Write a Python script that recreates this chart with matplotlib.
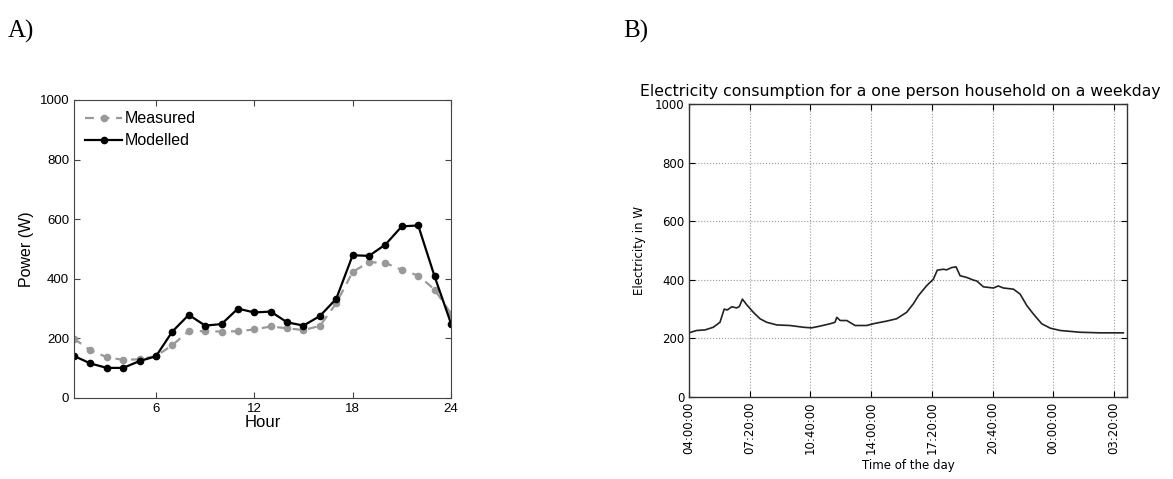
import matplotlib
matplotlib.use('Agg')
import matplotlib.pyplot as plt
import numpy as np

# ---- panel A: hourly profile
horas = list(range(1, 25))
medido = [199, 160, 137, 128, 130, 141, 177, 225, 224, 223, 224, 230,
          240, 234, 228, 242, 318, 423, 456, 453, 430, 411, 364, 283]
modelado = [141, 116, 101, 101, 124, 140, 223, 279, 243, 248, 300, 287,
            290, 254, 243, 275, 333, 479, 477, 515, 576, 579, 408, 250]

# ---- panel B: minutes after 04:00 and consumption in W
minutos = [0, 25, 53, 80, 102, 116, 126, 141, 157, 166, 176, 190, 212, 234,
           256, 289, 333, 377, 404, 432, 465, 481, 487, 498, 520, 547, 585,
           607, 651, 684, 717, 739, 756, 783, 794, 805, 818, 838, 849, 866,
           880, 893, 915, 937, 948, 970, 1003, 1019, 1036, 1069, 1091, 1113,
           1134, 1162, 1190, 1223, 1288, 1354, 1431]
consumo = [219, 227, 229, 238, 255, 300, 297, 308, 304, 309, 334, 315, 289,
           267, 255, 246, 244, 238, 236, 242, 250, 255, 272, 261, 261, 244,
           244, 250, 259, 267, 289, 318, 346, 380, 391, 402, 433, 436, 434,
           442, 444, 414, 408, 399, 396, 376, 372, 379, 372, 368, 351, 312,
           284, 250, 235, 227, 221, 219, 219]
ticks_b = [0, 200, 400, 600, 800, 1000, 1200, 1400]

W, H = 1173, 479
fig = plt.figure(figsize=(W/100, H/100), dpi=100)

def caja(x0, x1, y0, y1):
  return [x0/W, 1-y1/H, (x1-x0)/W, (y1-y0)/H]

# ---------------- A
sans = ['Liberation Sans', 'DejaVu Sans']
axA = fig.add_axes(caja(74, 451, 100, 398))
axA.plot(horas, medido, color='#999999', ls='--', dashes=(4, 3), lw=1.6,
         marker='o', ms=4.5, label='Measured')
axA.plot(horas, modelado, color='black', lw=1.6, marker='o', ms=4.5,
         label='Modelled')
axA.set_xlim(1, 24)
axA.set_ylim(0, 1000)
axA.set_xticks([6, 12, 18, 24])
axA.set_yticks(range(0, 1001, 200))
axA.tick_params(direction='in', top=True, right=True, length=4,
                labelsize=9.5, color='#444444')
for lab in axA.get_xticklabels() + axA.get_yticklabels():
  lab.set_family(sans)
for s in axA.spines.values():
  s.set_color('#444444')
  s.set_linewidth(0.8)
axA.set_xlabel('Hour', family=sans, fontsize=12, labelpad=0)
axA.set_ylabel('Power (W)', family=sans, fontsize=11.5, labelpad=4)
leg = axA.legend(loc='upper left', frameon=False, prop={'family': sans, 'size': 11.5},
                 handlelength=2.3, handletextpad=0.2, borderaxespad=0.3,
                 labelspacing=0.45)

# ---------------- B
axB = fig.add_axes(caja(689, 1127, 104, 397))
axB.plot(minutos, consumo, color='#222222', lw=1.2)
axB.set_xlim(0, 1443)
axB.set_ylim(0, 1000)
axB.set_xticks(ticks_b)
axB.set_xticklabels(['%02d:%02d:00' % (((240+m)//60) % 24, (240+m) % 60) for m in ticks_b],
                    rotation=90)
axB.set_yticks(range(0, 1001, 200))
axB.grid(True, ls=':', color='#999999', lw=0.8)
axB.tick_params(direction='in', top=True, right=True, length=4, labelsize=8.5)
for s in axB.spines.values():
  s.set_linewidth(1.0)
  s.set_color('#333333')
axB.set_xlabel('Time of the day', fontsize=8.5, labelpad=3)
axB.set_ylabel('Electricity in W', fontsize=8.5, labelpad=6)
tit = axB.set_title('Electricity consumption for a one person household on a weekday',
                    fontsize=11.3, pad=6)
tit.set_x(0.482)

# panel letters
serif = ['Liberation Serif', 'DejaVu Serif']
fig.text(8/W, 1-38/H, 'A)', family=serif, fontsize=18)
fig.text(623/W, 1-38/H, 'B)', family=serif, fontsize=18)

fig.savefig('out.png', dpi=100)
